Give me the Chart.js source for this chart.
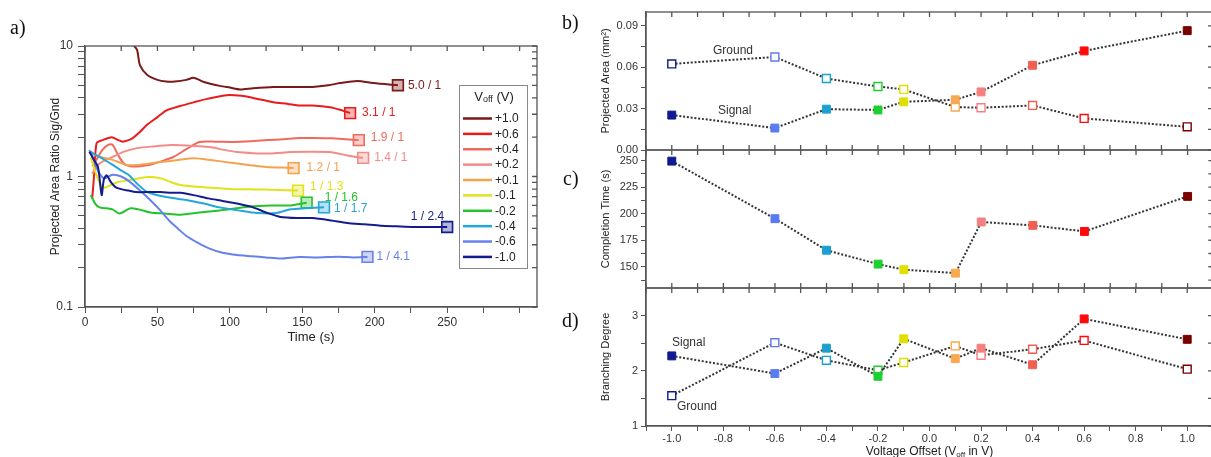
<!DOCTYPE html>
<html>
<head>
<meta charset="utf-8">
<script src="https://cdn.jsdelivr.net/npm/chart.js@4.4.0/dist/chart.umd.min.js"></script>
<style>
  html, body { margin: 0; padding: 0; background: #fff; overflow: hidden; }
  #wrap { position: relative; width: 1211px; height: 457px; overflow: hidden; }
  #wrap canvas { position: absolute; }
  .plbl { position: absolute; font-family: "Liberation Serif", "DejaVu Serif", serif; font-size: 20px; color: #111; line-height: 22px; }
  .ann { position: absolute; font-family: "Liberation Sans", Arial, sans-serif; font-size: 12px; color: #333; line-height: 14px; }
</style>
</head>
<body>
<div id="wrap">
  <canvas id="chartA" width="560" height="457" style="left:0;top:0"></canvas>
  <canvas id="chartB" width="660" height="470" style="left:560px;top:0"></canvas>
  <canvas id="chartC" width="660" height="470" style="left:560px;top:0"></canvas>
  <canvas id="chartD" width="660" height="470" style="left:560px;top:0"></canvas>
  <div class="plbl" style="left:10px;top:16px">a)</div>
  <div class="plbl" style="left:562px;top:11px">b)</div>
  <div class="plbl" style="left:563px;top:167px">c)</div>
  <div class="plbl" style="left:562px;top:309px">d)</div>
  <div class="ann" style="left:713px;top:43px">Ground</div>
  <div class="ann" style="left:718px;top:103px">Signal</div>
  <div class="ann" style="left:672px;top:335px">Signal</div>
  <div class="ann" style="left:677px;top:399px">Ground</div>
</div>
<script>
// offset voltages, shared by all panels
const voltages = [-1.0, -0.6, -0.4, -0.2, -0.1, 0.1, 0.2, 0.4, 0.6, 1.0];
const voltLabels = ['-1.0', '-0.6', '-0.4', '-0.2', '-0.1', '+0.1', '+0.2', '+0.4', '+0.6', '+1.0'];
const lineColors = ['#141c8c', '#6682ea', '#23a6d8', '#26c22c', '#e2e21a', '#f5a24e', '#f38c88', '#ef6a5c', '#e81c1c', '#7c1818'];
const markColors = ['#0f1a8f', '#5a7cf0', '#1aa0d0', '#1ecf30', '#e0e000', '#f8a850', '#f58080', '#f06050', '#ff0a0a', '#7a0000'];

// a) projected area ratio Sig/Gnd over time
const tM10 = [3, 6, 9, 11.5, 13, 15, 18, 21, 25, 30, 35, 45, 52, 60, 66, 75, 85, 95, 105, 116, 125, 135, 148, 157, 170, 181, 193, 204, 215, 227, 238, 250];
const rM10 = [1.55, 1.35, 1.18, 0.72, 0.95, 1.02, 0.9, 0.83, 0.8, 0.78, 0.76, 0.76, 0.76, 0.75, 0.75, 0.72, 0.68, 0.65, 0.62, 0.58, 0.53, 0.49, 0.48, 0.48, 0.46, 0.44, 0.43, 0.42, 0.415, 0.41, 0.41, 0.41];
const tM06 = [3, 6, 9, 13, 19, 25, 31, 38, 45, 52, 58, 64, 70, 78, 86, 95, 105, 115, 125, 135, 148, 160, 175, 185, 195];
const rM06 = [1.6, 1.35, 1.1, 0.97, 1.03, 1.0, 0.91, 0.78, 0.66, 0.55, 0.46, 0.4, 0.35, 0.31, 0.28, 0.26, 0.25, 0.245, 0.24, 0.235, 0.242, 0.24, 0.243, 0.24, 0.242];
const tM04 = [4, 8, 13, 18, 24, 30, 36, 43, 55, 70, 82, 93, 106, 119, 132, 142, 152, 165];
const rM04 = [1.55, 1.45, 1.35, 1.25, 1.13, 1.03, 0.88, 0.76, 0.7, 0.66, 0.62, 0.58, 0.55, 0.525, 0.525, 0.56, 0.57, 0.58];
const tM02 = [4, 7, 10, 15, 19, 24, 31, 37, 45, 55, 66, 79, 93, 104, 114, 128, 142, 153];
const rM02 = [0.72, 0.62, 0.58, 0.57, 0.56, 0.52, 0.57, 0.56, 0.53, 0.52, 0.51, 0.53, 0.55, 0.57, 0.59, 0.6, 0.6, 0.63];
const tM01 = [4, 7, 10, 12.6, 16, 22, 28, 33, 43, 52, 60, 66, 80, 95, 102, 115, 130, 147];
const rM01 = [1.4, 1.1, 0.9, 0.82, 0.84, 0.9, 0.93, 0.95, 0.99, 0.97, 0.9, 0.86, 0.83, 0.81, 0.8, 0.8, 0.79, 0.78];
const tP01 = [4, 8, 12, 19, 24, 29, 40, 52, 63, 75, 88, 102, 114, 125, 135, 144];
const rP01 = [1.5, 1.45, 1.4, 1.34, 1.28, 1.22, 1.24, 1.29, 1.33, 1.38, 1.33, 1.27, 1.22, 1.18, 1.17, 1.16];
const tP02 = [5, 8, 12, 19, 27, 36, 47, 59, 70, 86, 96, 105, 116, 128, 142, 155, 169, 181, 192];
const rP02 = [1.05, 1.2, 1.3, 1.41, 1.55, 1.65, 1.7, 1.74, 1.73, 1.68, 1.6, 1.54, 1.51, 1.5, 1.54, 1.55, 1.54, 1.45, 1.39];
const tP04 = [5, 8, 12, 16, 19, 23, 27, 31, 38, 45, 52, 61, 70, 79, 90, 102, 114, 126, 137, 148, 157, 170, 180, 189];
const rP04 = [1.2, 1.35, 1.6, 1.75, 1.75, 1.45, 1.25, 1.2, 1.2, 1.23, 1.3, 1.41, 1.62, 1.84, 1.85, 1.84, 1.86, 1.9, 1.93, 1.97, 1.97, 1.96, 1.93, 1.9];
const tP06 = [5, 6.5, 8, 12, 18.5, 23, 26, 30, 33, 38, 43, 50, 56, 65, 75, 85, 98, 108, 116, 123, 130, 140, 148, 157, 169, 176, 183];
const rP06 = [0.68, 1.1, 1.8, 1.9, 2.0, 1.9, 1.85, 1.9, 1.97, 2.2, 2.5, 2.85, 3.2, 3.45, 3.7, 3.95, 4.2, 4.15, 4.0, 3.85, 3.7, 3.6, 3.5, 3.5, 3.4, 3.25, 3.06];
const tP10 = [32, 34, 36, 38, 43, 50, 56, 62, 70, 75, 82, 93, 100, 107, 116, 130, 148, 157, 168, 176, 188, 199, 216];
const rP10 = [11, 10, 9.3, 7.1, 6.0, 5.5, 5.35, 5.35, 5.5, 5.7, 5.3, 4.95, 4.8, 4.65, 4.75, 4.85, 4.85, 4.85, 5.0, 5.2, 5.4, 5.2, 5.0];
const seriesTimes = [tM10, tM06, tM04, tM02, tM01, tP01, tP02, tP04, tP06, tP10];
const seriesRatios = [rM10, rM06, rM04, rM02, rM01, rP01, rP02, rP04, rP06, rP10];
const finalRatioText = ['1 / 2.4', '1 / 4.1', '1 / 1.7', '1 / 1.6', '1 / 1.3', '1.2 / 1', '1.4 / 1', '1.9 / 1', '3.1 / 1', '5.0 / 1'];
const timeTicks = [0, 25, 50, 75, 100, 125, 150, 175, 200, 225, 250, 275, 300];
const timeTickLabels = ['0', '', '50', '', '100', '', '150', '', '200', '', '250', '', ''];
const ratioTicks = [0.1, 0.2, 0.3, 0.4, 0.5, 0.6, 0.7, 0.8, 0.9, 1, 2, 3, 4, 5, 6, 7, 8, 9, 10];
const ratioTickLabels = ['0.1', '', '', '', '', '', '', '', '', '1', '', '', '', '', '', '', '', '', '10'];

// b) projected area, c) completion time, d) branching degree
const areaSignal = [0.0253, 0.0159, 0.0296, 0.029, 0.0349, 0.0364, 0.0421, 0.0614, 0.0718, 0.0865];
const areaGround = [0.0624, 0.0674, 0.0518, 0.046, 0.0439, 0.0311, 0.0306, 0.0323, 0.0229, 0.0168];
const completionTime = [249.5, 195.3, 165.6, 152.5, 147.2, 144, 192.2, 189, 183.3, 216.3];
const branchSignal = [2.27, 1.95, 2.41, 1.9, 2.58, 2.22, 2.41, 2.11, 2.94, 2.57];
const branchGround = [1.55, 2.51, 2.19, 2.01, 2.15, 2.45, 2.28, 2.39, 2.55, 2.03];
const offsetTicks = [-1.1, -1.0, -0.9, -0.8, -0.7, -0.6, -0.5, -0.4, -0.3, -0.2, -0.1, 0, 0.1, 0.2, 0.3, 0.4, 0.5, 0.6, 0.7, 0.8, 0.9, 1.0, 1.1];
const offsetTickLabels = ['', '-1.0', '', '-0.8', '', '-0.6', '', '-0.4', '', '-0.2', '', '0.0', '', '0.2', '', '0.4', '', '0.6', '', '0.8', '', '1.0', ''];
const areaTicks = [0, 0.015, 0.03, 0.045, 0.06, 0.075, 0.09];
const areaTickLabels = ['0.00', '', '0.03', '', '0.06', '', '0.09'];
const compTicks = [137.5, 150, 162.5, 175, 187.5, 200, 212.5, 225, 237.5, 250];
const compTickLabels = ['', '150', '', '175', '', '200', '', '225', '', '250'];
const branchTicks = [1, 1.5, 2, 2.5, 3];
const branchTickLabels = ['1', '', '2', '', '3'];

Chart.defaults.font.family = '"Liberation Sans", Arial, sans-serif';
const AXIS = '#555';
const TXT = '#333';

// label layout next to the end markers of panel a
const endLabelPos = [
  {dx: -3, dy: -10, align: 'right'}, {dx: 9, dy: 0, align: 'left'}, {dx: 10, dy: 1, align: 'left'},
  {dx: 18, dy: -5, align: 'left'}, {dx: 12, dy: -4, align: 'left'}, {dx: 13, dy: 0, align: 'left'},
  {dx: 11, dy: 0, align: 'left'}, {dx: 12, dy: -2, align: 'left'}, {dx: 12, dy: 0, align: 'left'},
  {dx: 10, dy: 0, align: 'left'}
];

function drawSub(ctx, parts, cx, cy, color) {
  let w = 0;
  parts.forEach(p => { ctx.font = p[1] + 'px "Liberation Sans", Arial, sans-serif'; w += ctx.measureText(p[0]).width; });
  let x = cx - w / 2;
  ctx.fillStyle = color;
  ctx.textAlign = 'left';
  ctx.textBaseline = 'middle';
  parts.forEach(p => {
    ctx.font = p[1] + 'px "Liberation Sans", Arial, sans-serif';
    ctx.fillText(p[0], x, cy + p[2]);
    x += ctx.measureText(p[0]).width;
  });
}

// box around the plot with inward ticks on top / right (and bottom if wanted)
const framePlugin = {
  id: 'frame',
  afterDraw(chart, args, opts) {
    const {ctx, chartArea: a, scales} = chart;
    const sx = scales.x, sy = scales.y;
    ctx.save();
    ctx.strokeStyle = AXIS;
    ctx.lineWidth = 1.3;
    ctx.strokeRect(a.left, a.top, a.right - a.left, a.bottom - a.top);
    ctx.beginPath();
    sx.ticks.forEach(t => {
      const px = sx.getPixelForValue(t.value);
      ctx.moveTo(px, a.top); ctx.lineTo(px, a.top + 5);
      if (opts.bottomIn) { ctx.moveTo(px, a.bottom); ctx.lineTo(px, a.bottom - 5); }
    });
    sy.ticks.forEach(t => {
      const py = sy.getPixelForValue(t.value);
      ctx.moveTo(a.right, py); ctx.lineTo(a.right - 5, py);
    });
    ctx.stroke();
    ctx.restore();
  }
};

const endLabelPlugin = {
  id: 'endLabels',
  afterDatasetsDraw(chart) {
    const ctx = chart.ctx;
    ctx.save();
    ctx.font = '12px "Liberation Sans", Arial, sans-serif';
    ctx.textBaseline = 'middle';
    chart.data.datasets.forEach((ds, i) => {
      const pts = chart.getDatasetMeta(i).data;
      const p = pts[pts.length - 1];
      const o = endLabelPos[i];
      ctx.fillStyle = ds.borderColor;
      ctx.textAlign = o.align;
      ctx.fillText(finalRatioText[i], p.x + o.dx, p.y + o.dy);
    });
    ctx.restore();
  }
};

const voltLegend = {
  id: 'voltLegend',
  afterDraw(chart) {
    const ctx = chart.ctx;
    const x0 = 459, y0 = 85, w = 68, h = 183;
    ctx.save();
    ctx.fillStyle = '#fff';
    ctx.fillRect(x0, y0, w, h);
    ctx.strokeStyle = '#888';
    ctx.lineWidth = 1;
    ctx.strokeRect(x0 + 0.5, y0 + 0.5, w, h);
    drawSub(ctx, [['V', 13, 0], ['off', 9, 3], [' (V)', 13, 0]], x0 + w / 2 + 1, 97, '#222');
    const items = chart.data.datasets.slice().reverse();
    items.forEach((ds, k) => {
      const y = 118.5 + k * 15.38;
      ctx.strokeStyle = ds.borderColor;
      ctx.lineWidth = 2.5;
      ctx.beginPath();
      ctx.moveTo(463, y); ctx.lineTo(492, y);
      ctx.stroke();
      ctx.fillStyle = '#222';
      ctx.font = '12px "Liberation Sans", Arial, sans-serif';
      ctx.textAlign = 'left';
      ctx.textBaseline = 'middle';
      ctx.fillText(ds.label, 495, y + 0.5);
    });
    ctx.restore();
  }
};

const offsetTitle = {
  id: 'offsetTitle',
  afterDraw(chart) {
    const a = chart.chartArea;
    chart.ctx.save();
    drawSub(chart.ctx, [['Voltage Offset (V', 12, 0], ['off', 8, 3], [' in V)', 12, 0]], (a.left + a.right) / 2, 452, '#222');
    chart.ctx.restore();
  }
};

// ---------- panel a
new Chart(document.getElementById('chartA'), {
  type: 'line',
  data: {
    datasets: voltages.map((v, i) => ({
      label: voltLabels[i],
      data: seriesTimes[i].map((t, k) => ({x: t, y: seriesRatios[i][k]})),
      borderColor: lineColors[i],
      borderWidth: 2,
      tension: 0.25,
      fill: false,
      pointStyle: 'rect',
      pointRadius: seriesTimes[i].map((t, k) => k === seriesTimes[i].length - 1 ? 7.6 : 0),
      pointBackgroundColor: lineColors[i] + '55',
      pointBorderColor: lineColors[i],
      pointBorderWidth: 1.6
    }))
  },
  options: {
    responsive: false,
    animation: false,
    events: [],
    layout: {padding: {left: 44, top: 46, right: 23, bottom: 108}},
    plugins: {legend: {display: false}, tooltip: {enabled: false}, frame: {bottomIn: false}},
    scales: {
      x: {
        type: 'linear', min: 0, max: 312,
        afterBuildTicks: s => { s.ticks = timeTicks.map(v => ({value: v})); },
        afterFit: s => { s.height = 42; },
        ticks: {autoSkip: false, maxRotation: 0, padding: 2, color: TXT, font: {size: 12}, callback: (v, i) => timeTickLabels[i]},
        grid: {drawOnChartArea: false, tickLength: 6, color: AXIS},
        border: {color: AXIS, width: 1.3},
        title: {display: true, text: 'Time (s)', color: '#222', font: {size: 13}, padding: {top: 0, bottom: 4}}
      },
      y: {
        type: 'logarithmic', min: 0.1, max: 10,
        afterBuildTicks: s => { s.ticks = ratioTicks.map(v => ({value: v})); },
        afterFit: s => { s.width = 41; },
        ticks: {autoSkip: false, padding: 5, color: TXT, font: {size: 12}, callback: (v, i) => ratioTickLabels[i]},
        grid: {drawOnChartArea: false, tickLength: 7, color: AXIS},
        border: {color: AXIS, width: 1.3},
        title: {display: true, text: 'Projected Area Ratio Sig/Gnd', color: '#222', font: {size: 12}, padding: {top: 4, bottom: 0}}
      }
    }
  },
  plugins: [framePlugin, endLabelPlugin, voltLegend]
});

// ---------- panels b, c, d
function dotted(values, filled) {
  return {
    data: voltages.map((v, i) => ({x: v, y: values[i]})),
    borderColor: '#333',
    borderWidth: 2,
    borderDash: [2, 1.8],
    tension: 0,
    fill: false,
    pointStyle: 'rect',
    pointRadius: 5.6,
    pointBackgroundColor: filled ? markColors : '#fff',
    pointBorderColor: markColors,
    pointBorderWidth: filled ? 1 : 1.4
  };
}

function sidePanel(id, top, bottom, yMin, yMax, yTicks, yLabels, yTitle, datasets, showX) {
  return new Chart(document.getElementById(id), {
    type: 'line',
    data: {datasets},
    options: {
      responsive: false,
      animation: false,
      events: [],
      layout: {padding: {left: 35, right: 5, top: top, bottom: showX ? 10 : 470 - bottom}},
      plugins: {legend: {display: false}, tooltip: {enabled: false}, frame: {bottomIn: !showX}},
      scales: {
        x: {
          type: 'linear', min: -1.1, max: 1.1,
          afterBuildTicks: s => { s.ticks = offsetTicks.map(v => ({value: v})); },
          afterFit: s => { s.height = showX ? 34 : 0; },
          ticks: {display: showX, autoSkip: false, maxRotation: 0, padding: 1, color: TXT, font: {size: 11}, callback: (v, i) => offsetTickLabels[i]},
          grid: {display: showX, drawOnChartArea: false, tickLength: 5, color: AXIS},
          border: {display: showX, color: AXIS, width: 1.3}
        },
        y: {
          type: 'linear', min: yMin, max: yMax,
          afterBuildTicks: s => { s.ticks = yTicks.map(v => ({value: v})); },
          afterFit: s => { s.width = 51; },
          ticks: {autoSkip: false, padding: 3, color: TXT, font: {size: 11}, callback: (v, i) => yLabels[i]},
          grid: {drawOnChartArea: false, tickLength: 5, color: AXIS},
          border: {color: AXIS, width: 1.3},
          title: {display: true, text: yTitle, color: '#222', font: {size: 11}, padding: {top: 4, bottom: 0}}
        }
      }
    },
    plugins: showX ? [framePlugin, offsetTitle] : [framePlugin]
  });
}

sidePanel('chartB', 12, 150, 0, 0.1, areaTicks, areaTickLabels, 'Projected Area (mm\u00b2)',
  [dotted(areaSignal, true), dotted(areaGround, false)], false);
sidePanel('chartC', 150, 288, 130, 260, compTicks, compTickLabels, 'Completion Time (s)',
  [dotted(completionTime, true)], false);
sidePanel('chartD', 288, 426, 1, 3.5, branchTicks, branchTickLabels, 'Branching Degree',
  [dotted(branchSignal, true), dotted(branchGround, false)], true);
</script>
</body>
</html>
